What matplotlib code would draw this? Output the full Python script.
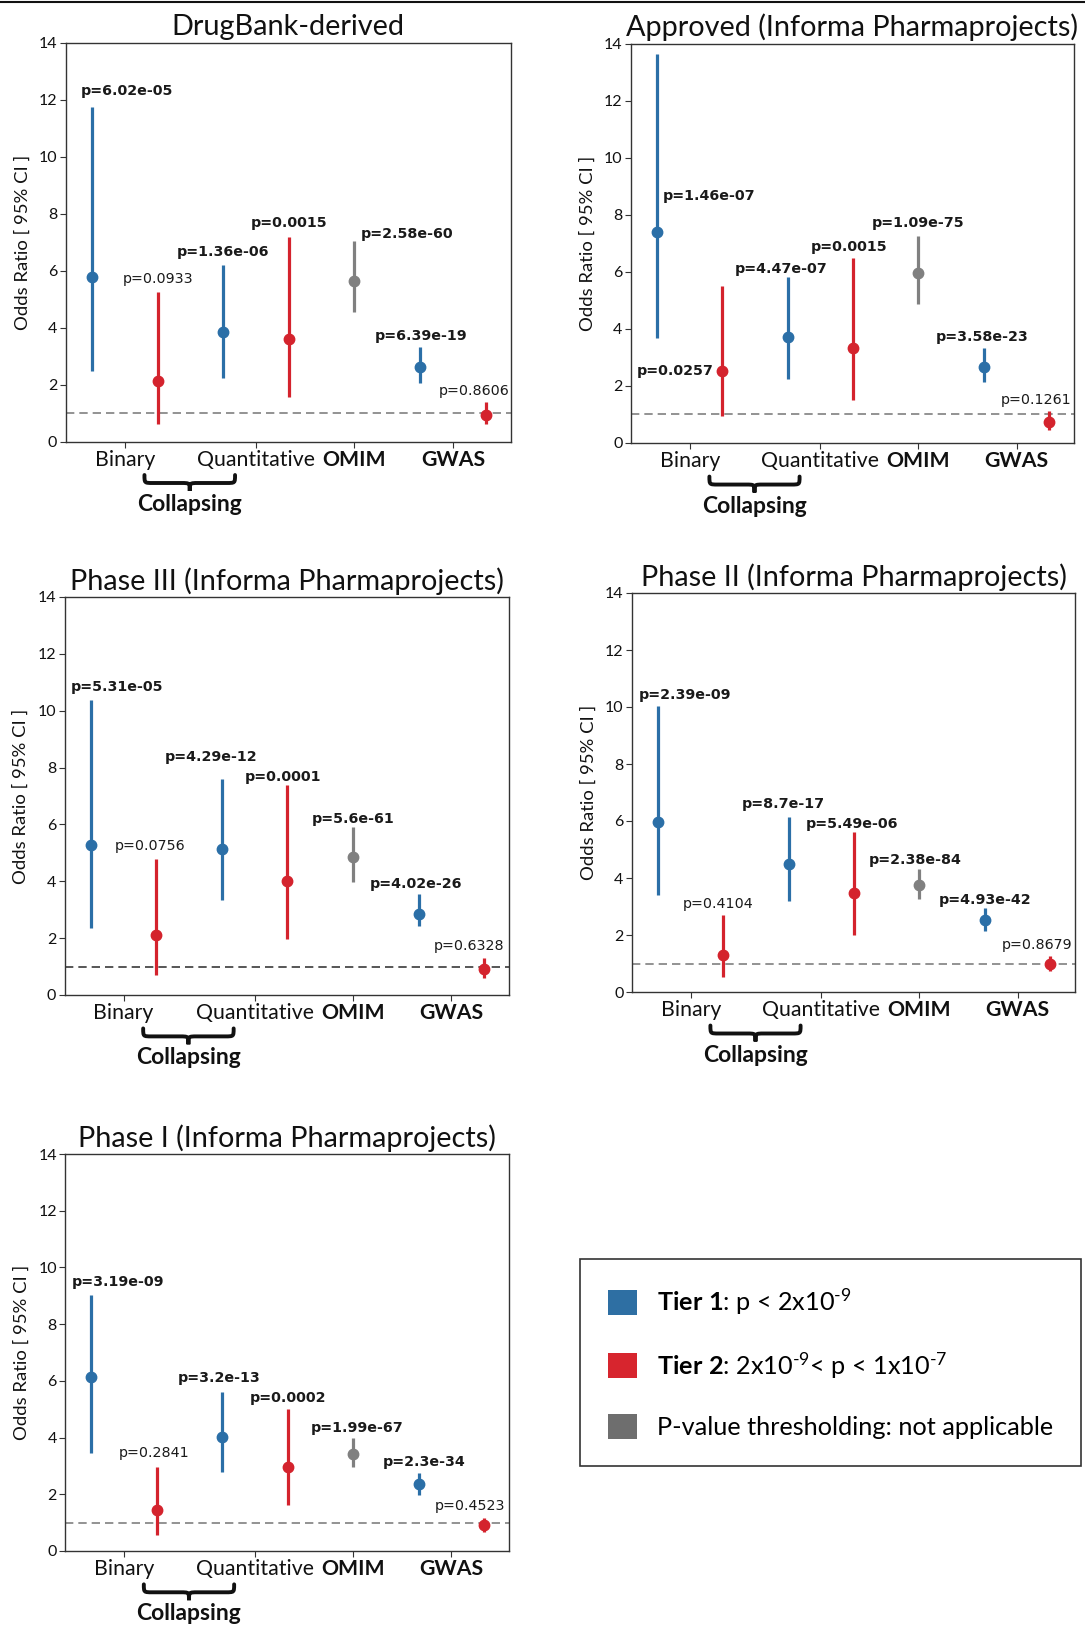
import matplotlib
matplotlib.use('Agg')
import matplotlib.pyplot as plt
from matplotlib.patches import Patch
from matplotlib.path import Path
from matplotlib.patches import PathPatch
from matplotlib.lines import Line2D
import matplotlib.transforms as mtransforms

plt.rcParams['font.family'] = ['Lato', 'DejaVu Sans']
plt.rcParams['mathtext.fontset'] = 'custom'
plt.rcParams['mathtext.rm'] = 'Lato'
plt.rcParams['mathtext.bf'] = 'Lato:bold'
plt.rcParams['mathtext.it'] = 'Lato:italic'

# groups along the x axis
positions = [0, 1, 2, 3, 4, 5, 6]
tiers = ['Tier 1', 'Tier 2', 'Tier 1', 'Tier 2', 'NA', 'Tier 1', 'Tier 2']
group_ticks = [0.5, 2.5, 4, 5.5]
group_labels = ['Binary', 'Quantitative', 'OMIM', 'GWAS']

titles = ['DrugBank-derived', 'Approved (Informa Pharmaprojects)',
          'Phase III (Informa Pharmaprojects)', 'Phase II (Informa Pharmaprojects)',
          'Phase I (Informa Pharmaprojects)']

# odds ratios and 95% CI
drugbank_or = [5.78, 2.14, 3.84, 3.58, 5.64, 2.61, 0.94]
drugbank_lo = [2.49, 0.63, 2.23, 1.55, 4.53, 2.04, 0.61]
drugbank_hi = [11.75, 5.24, 6.19, 7.18, 7.02, 3.31, 1.37]
drugbank_p = ['p=6.02e-05', 'p=0.0933', 'p=1.36e-06', 'p=0.0015', 'p=2.58e-60', 'p=6.39e-19', 'p=0.8606']

approved_or = [7.39, 2.54, 3.70, 3.34, 5.94, 2.68, 0.75]
approved_lo = [3.68, 0.96, 2.25, 1.52, 4.87, 2.13, 0.47]
approved_hi = [13.62, 5.51, 5.80, 6.47, 7.26, 3.34, 1.11]
approved_p = ['p=1.46e-07', 'p=0.0257', 'p=4.47e-07', 'p=0.0015', 'p=1.09e-75', 'p=3.58e-23', 'p=0.1261']

phase3_or = [5.28, 2.11, 5.13, 4.00, 4.85, 2.84, 0.90]
phase3_lo = [2.37, 0.72, 3.34, 1.96, 3.99, 2.44, 0.61]
phase3_hi = [10.38, 4.80, 7.61, 7.37, 5.91, 3.54, 1.29]
phase3_p = ['p=5.31e-05', 'p=0.0756', 'p=4.29e-12', 'p=0.0001', 'p=5.6e-61', 'p=4.02e-26', 'p=0.6328']

phase2_or = [5.97, 1.31, 4.48, 3.47, 3.77, 2.52, 0.98]
phase2_lo = [3.40, 0.53, 3.20, 2.01, 3.26, 2.14, 0.74]
phase2_hi = [10.04, 2.69, 6.14, 5.62, 4.33, 2.93, 1.25]
phase2_p = ['p=2.39e-09', 'p=0.4104', 'p=8.7e-17', 'p=5.49e-06', 'p=2.38e-84', 'p=4.93e-42', 'p=0.8679']

phase1_or = [6.14, 1.43, 4.01, 2.95, 3.43, 2.36, 0.90]
phase1_lo = [3.47, 0.56, 2.80, 1.61, 2.95, 1.99, 0.67]
phase1_hi = [9.03, 2.95, 5.60, 5.01, 3.97, 2.75, 1.16]
phase1_p = ['p=3.19e-09', 'p=0.2841', 'p=3.2e-13', 'p=0.0002', 'p=1.99e-67', 'p=2.3e-34', 'p=0.4523']

panels = [
    (drugbank_or, drugbank_lo, drugbank_hi, drugbank_p),
    (approved_or, approved_lo, approved_hi, approved_p),
    (phase3_or, phase3_lo, phase3_hi, phase3_p),
    (phase2_or, phase2_lo, phase2_hi, phase2_p),
    (phase1_or, phase1_lo, phase1_hi, phase1_p),
]

tier_colors = {'Tier 1': '#2b6fa7', 'Tier 2': '#d4232d', 'NA': '#808080'}

# axes rectangles in pixels (left, top, right, bottom) of a 1085x1625 canvas
W, H = 1085, 1625
boxes = [(65.7, 42.5, 510.7, 441.5), (631, 43.5, 1074, 443),
         (64.5, 597, 509, 995), (632, 593, 1075, 992),
         (65.3, 1154, 509, 1551)]

# hand placement of the p-value labels: (ha, dx, dy, anchor)
placement = [
    [('left', -0.17, 0.30, 'hi'), ('center', 0, 0.2, 'hi'), ('center', 0, 0.22, 'hi'),
     ('center', 0, 0.25, 'hi'), ('left', 0.09, 0.02, 'hi'), ('center', 0.02, 0.14, 'hi'),
     ('center', -0.18, 0.15, 'hi')],
    [('left', 0.08, 1.25, 'mid'), ('right', -0.13, 0, 'mid'), ('center', -0.11, 0.05, 'hi'),
     ('center', -0.07, 0.15, 'hi'), ('center', 0, 0.2, 'hi'), ('center', -0.03, 0.14, 'hi'),
     ('center', -0.2, 0.16, 'hi')],
    [('left', -0.30, 0.2, 'hi'), ('center', -0.09, 0.19, 'hi'), ('center', -0.16, 0.5, 'hi'),
     ('center', -0.06, 0.04, 'hi'), ('center', 0, 0.04, 'hi'), ('center', -0.04, 0.12, 'hi'),
     ('center', -0.23, 0.18, 'hi')],
    [('left', -0.30, 0.15, 'hi'), ('center', -0.08, 0.14, 'hi'), ('center', -0.09, 0.21, 'hi'),
     ('center', -0.04, 0.02, 'hi'), ('center', -0.07, 0.06, 'hi'), ('center', 0, 0.06, 'hi'),
     ('center', -0.2, 0.15, 'hi')],
    [('left', -0.30, 0.2, 'hi'), ('center', -0.05, 0.26, 'hi'), ('center', -0.05, 0.26, 'hi'),
     ('center', 0, 0.14, 'hi'), ('center', 0.06, 0.13, 'hi'), ('center', 0.08, 0.14, 'hi'),
     ('center', -0.21, 0.18, 'hi')],
]
dash_colors = ['#808080', '#808080', '#3a3a3a', '#808080', '#808080']


def draw_brace(ax, x0, x1, y_top, y_tip):
    trans = mtransforms.blended_transform_factory(ax.transData, ax.transAxes)
    xm = (x0 + x1) / 2
    ym = (y_top + y_tip) / 2
    r = 0.13
    verts = [(x0, y_top), (x0, ym), (x0, ym), (x0 + r, ym),
             (xm - r, ym), (xm, ym), (xm, ym), (xm, y_tip),
             (xm, ym), (xm, ym), (xm + r, ym),
             (x1 - r, ym), (x1, ym), (x1, ym), (x1, y_top)]
    codes = [Path.MOVETO, Path.CURVE4, Path.CURVE4, Path.CURVE4,
             Path.LINETO, Path.CURVE4, Path.CURVE4, Path.CURVE4,
             Path.CURVE4, Path.CURVE4, Path.CURVE4,
             Path.LINETO, Path.CURVE4, Path.CURVE4, Path.CURVE4]
    patch = PathPatch(Path(verts, codes), transform=trans, fill=False,
                      lw=2.8, edgecolor='#111111', clip_on=False, capstyle='round')
    ax.add_patch(patch)


fig = plt.figure(figsize=(10.85, 16.25), dpi=100)

for k, (vals, title) in enumerate(zip(panels, titles)):
    or_, lo, hi, pv = vals
    l, t, r, b = boxes[k]
    ax = fig.add_axes([l / W, 1 - b / H, (r - l) / W, (b - t) / H])

    ax.axhline(1, color=dash_colors[k], lw=1.2, dashes=(5, 3), zorder=1)
    for tier in ['Tier 1', 'Tier 2', 'NA']:
        idx = [i for i in range(len(positions)) if tiers[i] == tier]
        xs = [positions[i] for i in idx]
        ys = [or_[i] for i in idx]
        err = [[or_[i] - lo[i] for i in idx], [hi[i] - or_[i] for i in idx]]
        ax.errorbar(xs, ys, yerr=err, fmt='o', color=tier_colors[tier], ms=7.5,
                    elinewidth=2.3, capsize=0, zorder=3)

    for i, txt in enumerate(pv):
        ha, dx, dy, anchor = placement[k][i]
        pnum = float(txt.split('=')[1])
        if anchor == 'hi':
            y, va = hi[i] + dy, 'bottom'
        else:
            y, va = or_[i] + dy, 'center'
        ax.text(positions[i] + dx, y, txt, ha=ha, va=va, fontsize=10.3,
                family='DejaVu Sans', color='#1a1a1a',
                fontweight='bold' if pnum < 0.05 else 'normal')

    ax.set_xlim(-0.4, 6.38)
    ax.set_ylim(0, 14)
    ax.set_yticks(range(0, 15, 2))
    ax.set_xticks(group_ticks)
    ax.set_xticklabels(group_labels, fontsize=15.3)
    for lab in ax.get_xticklabels()[2:]:
        lab.set_fontweight('bold')
    ax.tick_params(axis='x', length=4, pad=2, colors='#333333', labelcolor='#111111')
    ax.tick_params(axis='y', length=4, pad=2, labelsize=11.5, colors='#333333', labelcolor='#111111')
    for sp in ax.spines.values():
        sp.set_color('#333333')
        sp.set_linewidth(1.0)
    ax.set_ylabel('Odds Ratio [ 95% CI ]', fontsize=13.3, labelpad=6, color='#111111')
    ax.annotate(title, xy=(0.5, 1), xycoords='axes fraction', xytext=(0, 11.5),
                textcoords='offset points', ha='center', va='center',
                fontsize=20.8, color='#111111', annotation_clip=False)

    draw_brace(ax, 0.80, 2.18, -0.084, -0.124)
    ax.text(1.49, -0.158, 'Collapsing', transform=mtransforms.blended_transform_factory(
        ax.transData, ax.transAxes), ha='center', va='center', fontsize=16.5,
        fontweight='bold', color='#111111')

# legend in the empty slot
handles = [Patch(facecolor='#2e6fa3', edgecolor='none'),
           Patch(facecolor='#d7252e', edgecolor='none'),
           Patch(facecolor='#6e6e6e', edgecolor='none')]
labels = [r'$\mathbf{Tier\ 1}$: p < 2x10$^{\text{-9}}$',
          r'$\mathbf{Tier\ 2}$: 2x10$^{\text{-9}}$< p < 1x10$^{\text{-7}}$',
          'P-value thresholding: not applicable']
leg = fig.legend(handles, labels, loc='upper left',
                 bbox_to_anchor=(580 / W, 1 - 1259 / H), fontsize=18.2,
                 handlelength=1.15, handleheight=1.15, labelspacing=1.3,
                 handletextpad=0.8, borderpad=1.1, borderaxespad=0,
                 fancybox=False, framealpha=1, edgecolor='#333333')
leg.get_frame().set_linewidth(1.2)

# thin rule along the top edge
fig.add_artist(Line2D([0, 1], [1 - 2 / H, 1 - 2 / H], color='#111111', lw=1.5))

fig.savefig('out.png', dpi=100)
